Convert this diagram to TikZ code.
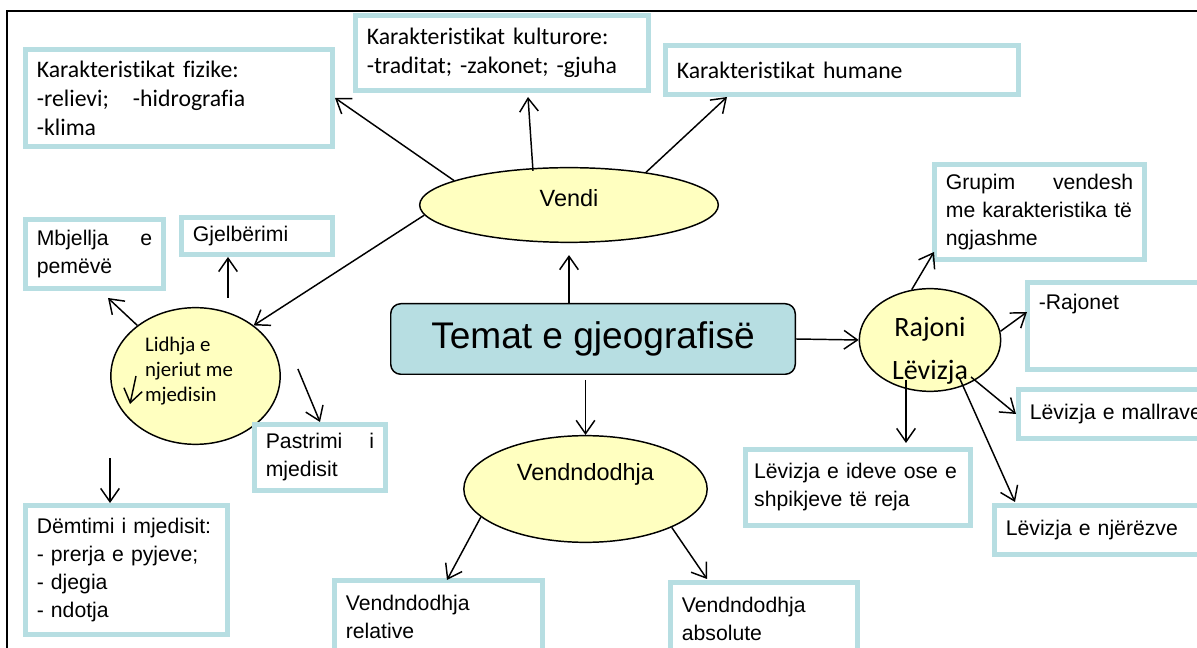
\documentclass[tikz,border=0pt]{standalone}
\usepackage{fontspec}
\setmainfont{Liberation Sans}
\newfontfamily\calibri[Ligatures=NoCommon]{Carlito}
\usetikzlibrary{arrows.meta,shapes.geometric,calc}
\definecolor{boxblue}{HTML}{B7DEE2}
\definecolor{lightyellow}{HTML}{FFFFC0}

\begin{document}
\begin{tikzpicture}[
    x=0.75pt,y=-0.75pt,
    font=\fontsize{15.9}{21}\selectfont,
    box/.style={draw=boxblue,line width=3.75pt,fill=white,align=left,inner xsep=8.5pt,inner ysep=4pt},
    kbox/.style={box,font=\calibri\fontsize{17.8}{21.75}\selectfont},
    bubble/.style={ellipse,draw,fill=lightyellow,line width=1.1pt,inner sep=0pt},
    arr/.style={-{Straight Barb[length=10pt,width=14pt]},line width=1.1pt}
  ]
  \useasboundingbox (0,0) rectangle (1197,648);
  \draw[line width=1.5pt] (7,700) -- (7,11) -- (1250,11);

  \node(temat) [draw,fill=boxblue,rounded corners=7.5pt,line width=1.1pt,minimum width=303.4pt,minimum height=52.9pt,font=\fontsize{27.8}{33}\selectfont] at (593,339) {Temat e gjeografisë};

  \node(vendi) [bubble,minimum width=224pt,minimum height=56pt,label={[font=\fontsize{17.6}{21}\selectfont,yshift=5pt]center:Vendi}] at (569,205) {};
  \node(fiz) [kbox,minimum width=230.25pt,minimum height=72.75pt,text width=213.25pt] at (179,98) {Karakteristikat fizike:\\-relievi;\hspace{18pt}-hidrografia\\-klima};
  \node(kult) [kbox,minimum width=219.75pt,minimum height=56.25pt,text width=202.75pt] at (502,53) {Karakteristikat kulturore:\\-traditat; -zakonet; -gjuha};
  \node(hum) [kbox,minimum width=264.75pt,minimum height=36.75pt,text width=247.75pt] at (842,70) {Karakteristikat humane};

  \node(rajoni) [bubble,minimum width=106pt,minimum height=77pt,label={[font=\calibri\fontsize{21}{27.75}\selectfont,align=center,yshift=-8pt]center:Rajoni\\[5pt]Lëvizja}] at (930,340) {};
  \node(grup) [box,minimum width=157.5pt,minimum height=71.25pt,text width=140.5pt] at (1039.5,212) {Grupim\hfill vendesh\\me karakteristika të\\ngjashme};
  \node(raj) [box,anchor=north west,minimum width=150pt,text width=133pt,text height=16pt,text depth=41.25pt] at (1025,280) {-Rajonet};
  \node(mall) [box,minimum width=156.75pt,minimum height=36.75pt,text width=139.75pt] at (1123,414) {Lëvizja e mallrave};
  \node(idev) [box,inner xsep=6.5pt,minimum width=168.75pt,minimum height=57pt,text width=155.75pt] at (858,487.5) {Lëvizja e ideve ose e\\shpikjeve të reja};
  \node(njer) [box,minimum width=174.75pt,minimum height=36.75pt,text width=157.75pt] at (1111,530) {Lëvizja e njërëzve};

  \node(lidhja) [bubble,minimum width=127pt,minimum height=102.5pt,label={[font=\calibri\fontsize{15.6}{18.75}\selectfont,align=left,xshift=-4.9pt,yshift=3.4pt]center:Lidhja e\\njeriut me\\mjedisin}] at (195.5,376) {};
  \node(mbj) [box,minimum width=103.5pt,minimum height=51.75pt,text width=86.5pt] at (94.5,254) {Mbjellja\hfill e\\pemëvë};
  \node(gjel) [box,minimum width=113.25pt,minimum height=27.75pt,text width=96.25pt] at (257,236) {Gjelbërimi};
  \node(pas) [box,minimum width=98.25pt,minimum height=49.5pt,text width=81.25pt] at (320,457.5) {Pastrimi\hfill i\\mjedisit};
  \node(dem) [box,minimum width=151.5pt,minimum height=96.75pt,text width=134.5pt] at (126.5,570) {Dëmtimi i mjedisit:\\- prerja e pyjeve;\\- djegia\\- ndotja};

  \node(vndd) [bubble,minimum width=182.5pt,minimum height=80pt,label={[font=\fontsize{17.6}{21}\selectfont,yshift=11.25pt]center:Vendndodhja}] at (585.5,489) {};
  \node(vrel) [box,minimum width=156pt,minimum height=54.75pt,text width=139pt] at (438.5,617) {Vendndodhja\\relative};
  \node(vabs) [box,minimum width=140.25pt,minimum height=54.75pt,text width=123.25pt] at (764,619) {Vendndodhja\\absolute};

  % Vendi
  \draw[arr] (vendi.168) -- (fiz.east);
  \draw[arr] ($(vendi.north)+(-36,4)$) -- ($(kult.south)+(26,4)$);
  \draw[arr] (vendi.23) -- ($(hum.south west)+(64,0)$);
  \draw[arr] (vendi.184) -- (lidhja.41);
  % Temat
  \draw[arr] (temat.north -| vendi.south) -- ($(vendi.south)+(0,12)$);
  \draw[arr] ($(temat.south -| vndd.north)+(0,5)$) -- (vndd.north);
  \draw[arr] (temat.east) -- (rajoni.west);
  % Rajoni
  \draw[arr] (rajoni.110) -- ($(grup.south west)+(2,-10)$);
  \draw[arr] (rajoni.7) -- ($(raj.west)+(2,-14)$);
  \draw[arr] ($(rajoni)+(41,37)$) -- (mall.west);
  \draw[arr] ($(rajoni)+(29,37)$) -- ($(njer.north west)+(23,-1)$);
  \draw[arr] ($(rajoni)+(-24,40)$) -- ($(idev.north)+(48,-4)$);
  % Lidhja
  \draw[arr] (lidhja.139) -- ($(mbj.south)+(13.5,7)$);
  \draw[arr] ($(lidhja.north)+(32.5,-9)$) -- ($(gjel.south)+(-29,0)$);
  \draw[arr] ($(lidhja.east)+(17,-7)$) -- (pas.north);
  \draw[arr] ($(lidhja)+(-59.5,0)$) -- ($(lidhja)+(-65.5,28)$);
  \draw[arr] ($(lidhja.south)+(-85.5,13)$) -- ($(dem.north)+(-16.5,0)$);
  % Vendndodhja
  \draw[arr] (vndd.195) -- ($(vrel.north)+(8.5,2)$);
  \draw[arr] (vndd.336) -- ($(vabs.north)+(-57,-1)$);
\end{tikzpicture}
\end{document}
